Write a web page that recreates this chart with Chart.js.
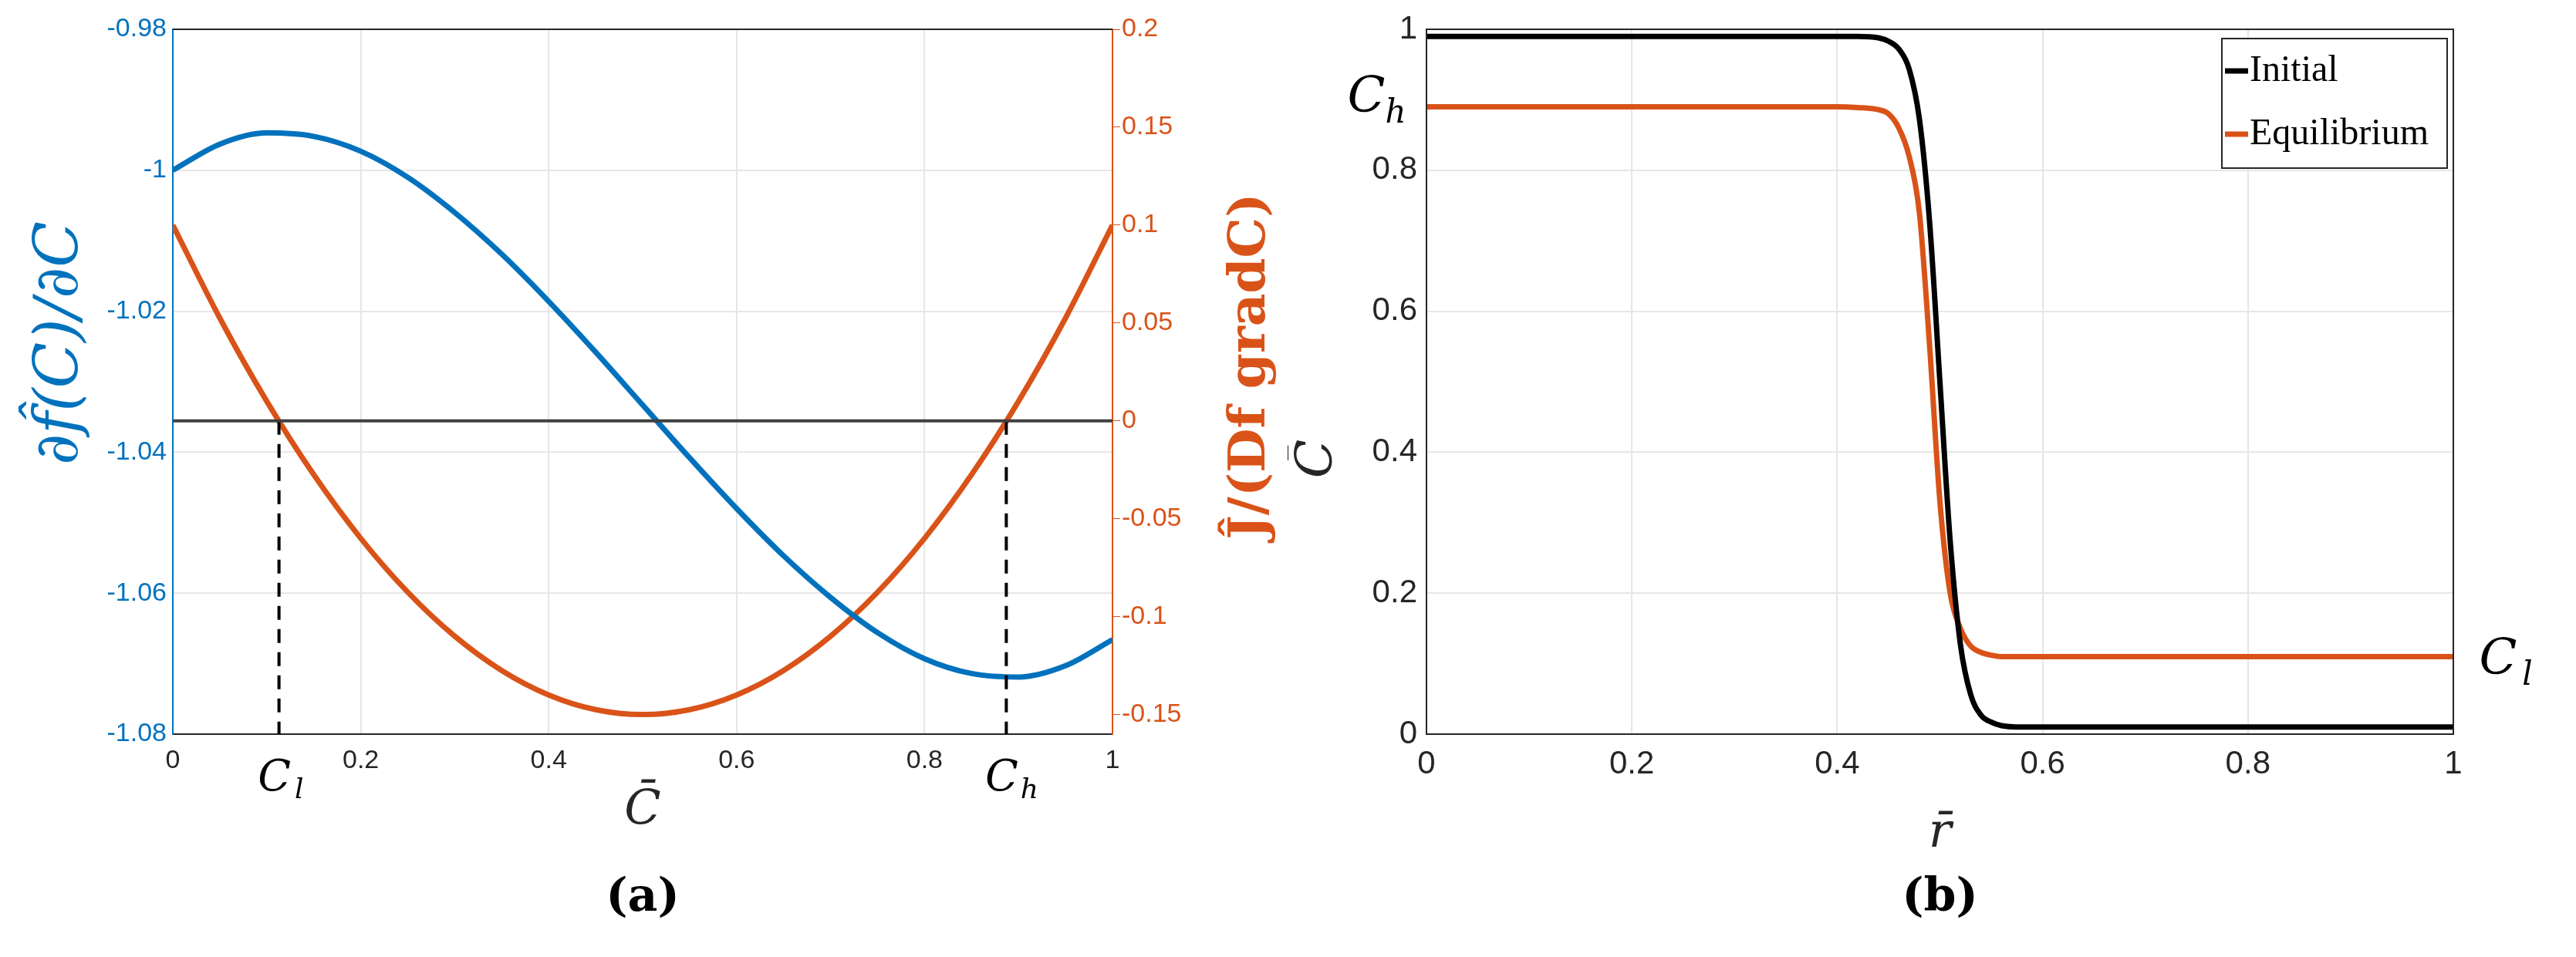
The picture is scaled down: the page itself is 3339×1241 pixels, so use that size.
<!DOCTYPE html>
<html>
<head>
<meta charset="utf-8">
<script src="https://cdn.jsdelivr.net/npm/chart.js@4.4.0/dist/chart.umd.min.js"></script>
<style>
body { margin:0; background:#fff; }
.box { position:absolute; top:0; height:1241px; }
</style>
</head>
<body>
<div class="box" style="left:0;width:1669px"><canvas id="graficoA"></canvas></div>
<div class="box" style="left:1669px;width:1670px"><canvas id="graficoB"></canvas></div>
<script>
// panel (a)
const cBarra = [0,0.05,0.1,0.15,0.2,0.25,0.3,0.35,0.4,0.45,0.5,0.55,0.6,0.65,0.7,0.75,0.8,0.85,0.9,0.95,1];
const derivadaF = [-1.0,-0.9963,-0.9947,-0.9952,-0.9973,-1.0010,-1.0060,-1.0119,-1.0186,-1.0258,-1.0333,
  -1.0408,-1.0480,-1.0547,-1.0606,-1.0656,-1.0693,-1.0714,-1.0719,-1.0703,-1.0666];
const flujoJ = [0.1,0.0525,0.01,-0.0275,-0.06,-0.0875,-0.11,-0.1275,-0.14,-0.1475,-0.15,
  -0.1475,-0.14,-0.1275,-0.11,-0.0875,-0.06,-0.0275,0.01,0.0525,0.1];
const cBajo = 0.113, cAlto = 0.887;
const ticksA = [0,0.2,0.4,0.6,0.8,1];
const ticksIzq = [-1.08,-1.06,-1.04,-1.02,-1,-0.98];
const ticksDer = [-0.15,-0.1,-0.05,0,0.05,0.1,0.15,0.2];

// panel (b)
const rBarra = [0,0.1,0.2,0.3,0.4,0.42,0.44,0.45,0.46,0.47,0.48,0.49,0.5,0.51,0.52,0.53,0.54,0.55,0.56,0.58,0.6,0.7,0.8,0.9,1];
const inicial = [0.99,0.99,0.99,0.99,0.99,0.99,0.988,0.983,0.972,0.944,0.873,0.726,0.5,0.274,0.127,0.056,0.027,0.017,0.012,0.01,0.01,0.01,0.01,0.01,0.01];
const equilibrio = [0.89,0.89,0.89,0.89,0.89,0.889,0.886,0.88,0.86,0.82,0.74,0.55,0.33,0.2,0.15,0.125,0.116,0.112,0.11,0.11,0.11,0.11,0.11,0.11,0.11];
const ticksB = [0,0.2,0.4,0.6,0.8,1];

const AZUL = '#0072BD', NARANJA = '#D95319';
const pares = (xs, ys) => xs.map((x, i) => ({x: x, y: ys[i]}));
const ancho = w => (s => { s.width = w; });
const alto = h => (s => { s.height = h; });
const fijarTicks = lista => (s => { s.ticks = lista.map(v => ({value: v})); });

function textos(dibujo) {
  return { id: 'textos', afterDraw(chart) { dibujo(chart, chart.ctx); } };
}
function texto(ctx, t, x, y, font, color, rot) {
  ctx.save();
  ctx.translate(x, y);
  if (rot) ctx.rotate(rot);
  ctx.font = font; ctx.fillStyle = color;
  ctx.textAlign = 'center'; ctx.textBaseline = 'middle';
  ctx.fillText(t, 0, 0);
  ctx.restore();
}

//GRAFICO (a)
new Chart(document.getElementById('graficoA'), {
  type: 'line',
  data: {
    datasets: [
      { data: pares([0,1],[0,0]), yAxisID: 'y1', borderColor: '#404040', borderWidth: 4 },
      { data: pares([cBajo,cBajo],[0,-0.16]), yAxisID: 'y1', borderColor: '#000', borderWidth: 4, borderDash: [18,12] },
      { data: pares([cAlto,cAlto],[0,-0.16]), yAxisID: 'y1', borderColor: '#000', borderWidth: 4, borderDash: [18,12] },
      { data: pares(cBarra, derivadaF), yAxisID: 'y', borderColor: AZUL, borderWidth: 7, cubicInterpolationMode: 'monotone' },
      { data: pares(cBarra, flujoJ), yAxisID: 'y1', borderColor: NARANJA, borderWidth: 7, cubicInterpolationMode: 'monotone' }
    ]
  },
  options: {
    responsive: true, maintainAspectRatio: false, animation: false,
    layout: { padding: { top: 38, left: 0, right: 0, bottom: 0 } },
    elements: { point: { radius: 0 } },
    plugins: { legend: { display: false }, tooltip: { enabled: false } },
    scales: {
      x: { type: 'linear', min: 0, max: 1, afterFit: alto(289), afterBuildTicks: fijarTicks(ticksA),
        border: { color: '#262626', width: 2 }, grid: { color: '#e6e6e6', lineWidth: 2, drawTicks: false },
        ticks: { color: '#262626', font: { family: 'Liberation Sans', size: 34 }, padding: 14, callback: v => String(v) } },
      y: { position: 'left', min: -1.08, max: -0.98, afterFit: ancho(224), afterBuildTicks: fijarTicks(ticksIzq),
        border: { color: AZUL, width: 2 }, grid: { color: '#e6e6e6', lineWidth: 2, drawTicks: false },
        ticks: { color: AZUL, font: { family: 'Liberation Sans', size: 34 }, padding: 8, callback: v => String(+v.toFixed(2)) } },
      y1: { position: 'right', min: -0.16, max: 0.2, afterFit: ancho(227), afterBuildTicks: fijarTicks(ticksDer),
        border: { color: NARANJA, width: 2 }, grid: { drawOnChartArea: false, drawTicks: true, tickLength: 10, color: NARANJA },
        ticks: { color: NARANJA, font: { family: 'Liberation Sans', size: 34 }, padding: 2, callback: v => String(+v.toFixed(2)) } }
    }
  },
  plugins: [textos((chart, ctx) => {
    const a = chart.chartArea, x = chart.scales.x;
    ctx.strokeStyle = '#262626'; ctx.lineWidth = 2;
    ctx.beginPath(); ctx.moveTo(a.left, a.top); ctx.lineTo(a.right, a.top); ctx.stroke();
    texto(ctx, 'C', x.getPixelForValue(cBajo) - 6, a.bottom + 58, 'italic 56px "DejaVu Serif"', '#000');
    texto(ctx, 'l', x.getPixelForValue(cBajo) + 26, a.bottom + 74, 'italic 36px "DejaVu Serif"', '#000');
    texto(ctx, 'C', x.getPixelForValue(cAlto) - 6, a.bottom + 58, 'italic 56px "DejaVu Serif"', '#000');
    texto(ctx, 'h', x.getPixelForValue(cAlto) + 30, a.bottom + 74, 'italic 36px "DejaVu Serif"', '#000');
    texto(ctx, 'C̄', x.getPixelForValue(0.5), a.bottom + 100, 'italic 62px "DejaVu Serif"', '#262626');
    texto(ctx, '∂f̂(C)/∂C', 80, (a.top + a.bottom) / 2 - 50, 'italic 78px "DejaVu Serif"', AZUL, -Math.PI / 2);
    texto(ctx, 'Ĵ/(Df gradC)', a.right + 180, (a.top + a.bottom) / 2 - 20, 'bold 66px "DejaVu Serif"', NARANJA, -Math.PI / 2);
    texto(ctx, '(a)', x.getPixelForValue(0.5), 1165, 'bold 60px "DejaVu Serif"', '#000');
  })]
});

//GRAFICO (b)
new Chart(document.getElementById('graficoB'), {
  type: 'line',
  data: {
    datasets: [
      { label: 'Initial', data: pares(rBarra, inicial), borderColor: '#000', backgroundColor: '#000', borderWidth: 7, cubicInterpolationMode: 'monotone' },
      { label: 'Equilibrium', data: pares(rBarra, equilibrio), borderColor: NARANJA, backgroundColor: NARANJA, borderWidth: 7, cubicInterpolationMode: 'monotone' }
    ]
  },
  options: {
    responsive: true, maintainAspectRatio: false, animation: false,
    layout: { padding: { top: 38, left: 0, right: 159, bottom: 0 } },
    elements: { point: { radius: 0 } },
    plugins: { legend: { display: false }, tooltip: { enabled: false } },
    scales: {
      x: { type: 'linear', min: 0, max: 1, afterFit: alto(289), afterBuildTicks: fijarTicks(ticksB),
        border: { color: '#262626', width: 2 }, grid: { color: '#e6e6e6', lineWidth: 2, drawTicks: false },
        ticks: { color: '#262626', font: { family: 'Liberation Sans', size: 42 }, padding: 14, callback: v => String(v) } },
      y: { min: 0, max: 1, afterFit: ancho(180), afterBuildTicks: fijarTicks(ticksB),
        border: { color: '#262626', width: 2 }, grid: { color: '#e6e6e6', lineWidth: 2, drawTicks: false },
        ticks: { color: '#262626', font: { family: 'Liberation Sans', size: 42 }, padding: 12, callback: v => String(v) } }
    }
  },
  plugins: [textos((chart, ctx) => {
    const a = chart.chartArea, x = chart.scales.x, y = chart.scales.y;
    ctx.strokeStyle = '#262626'; ctx.lineWidth = 2;
    ctx.strokeRect(a.left, a.top, a.right - a.left, a.bottom - a.top);
    // legend
    const lx = a.right - 300, ly = a.top + 12, lw = 292, lh = 168;
    ctx.fillStyle = '#fff'; ctx.fillRect(lx, ly, lw, lh);
    ctx.strokeStyle = '#262626'; ctx.lineWidth = 2; ctx.strokeRect(lx, ly, lw, lh);
    chart.data.datasets.forEach((d, i) => {
      const yy = ly + 42 + i * 82;
      ctx.strokeStyle = d.borderColor; ctx.lineWidth = 7;
      ctx.beginPath(); ctx.moveTo(lx + 4, yy); ctx.lineTo(lx + 34, yy); ctx.stroke();
      ctx.font = '48px "Liberation Serif"'; ctx.fillStyle = '#000';
      ctx.textAlign = 'left'; ctx.textBaseline = 'middle';
      ctx.fillText(d.label, lx + 36, yy);
    });
    texto(ctx, 'C', a.left - 78, y.getPixelForValue(0.89) - 10, 'italic 64px "DejaVu Serif"', '#000');
    texto(ctx, 'h', a.left - 40, y.getPixelForValue(0.89) + 10, 'italic 42px "DejaVu Serif"', '#000');
    texto(ctx, 'C', a.right + 58, y.getPixelForValue(0.11) + 6, 'italic 64px "DejaVu Serif"', '#000');
    texto(ctx, 'l', a.right + 96, y.getPixelForValue(0.11) + 26, 'italic 42px "DejaVu Serif"', '#000');
    texto(ctx, 'C̄', 40, (a.top + a.bottom) / 2 + 100, 'italic 66px "DejaVu Serif"', '#262626', -Math.PI / 2);
    texto(ctx, 'r̄', x.getPixelForValue(0.5), a.bottom + 130, 'italic 62px "DejaVu Serif"', '#262626');
    texto(ctx, '(b)', x.getPixelForValue(0.5), 1165, 'bold 60px "DejaVu Serif"', '#000');
  })]
});
</script>
</body>
</html>
